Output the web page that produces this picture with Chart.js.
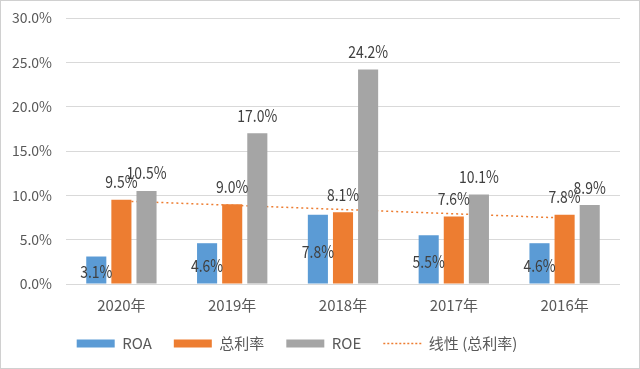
<!DOCTYPE html>
<html>
<head>
<meta charset="utf-8">
<script src="https://cdn.jsdelivr.net/npm/chart.js@4.4.0/dist/chart.umd.min.js"></script>
<style>
  html, body { margin: 0; padding: 0; background: #ffffff; }
  #wrap { width: 640px; height: 369px; }
</style>
</head>
<body>
<div id="wrap"><canvas id="roeChart" width="640" height="369"></canvas></div>
<script>
// values
var years = ['2020年', '2019年', '2018年', '2017年', '2016年'];
var roa = [3.1, 4.6, 7.8, 5.5, 4.6];
var profitRate = [9.5, 9.0, 8.1, 7.6, 7.8];
var roe = [10.5, 17.0, 24.2, 10.1, 8.9];
var profitTrend = [9.36, 8.88, 8.40, 7.92, 7.44];
var yTicks = [0, 5, 10, 15, 20, 25, 30];

var fontFamily = "'Noto Sans CJK SC', 'Noto Sans', sans-serif";

// draws the value labels on the bars (narrow text like the original)
var barLabels = {
    id: 'barLabels',
    afterDatasetsDraw: function (chart) {
        var ctx = chart.ctx;
        ctx.save();
        ctx.font = '17px ' + fontFamily;
        ctx.fillStyle = '#404040';
        ctx.textAlign = 'center';
        ctx.textBaseline = 'middle';
        chart.data.datasets.forEach(function (ds, i) {
            if (ds.type === 'line') return;
            var meta = chart.getDatasetMeta(i);
            meta.data.forEach(function (bar, j) {
                var txt = ds.data[j].toFixed(1) + '%';
                var y;
                if (i === 0) {
                    y = (bar.y + bar.base) / 2 + 2;
                } else {
                    y = bar.y - 18;
                }
                ctx.save();
                ctx.translate(bar.x, y);
                ctx.scale(0.82, 1);
                ctx.fillText(txt, 0, 0);
                ctx.restore();
            });
        });
        ctx.restore();
    }
};

// light frame round the whole chart
var frame = {
    id: 'frame',
    beforeDraw: function (chart) {
        var ctx = chart.ctx;
        ctx.save();
        ctx.fillStyle = '#ffffff';
        ctx.fillRect(0, 0, chart.width, chart.height);
        ctx.strokeStyle = '#d0d0d0';
        ctx.lineWidth = 1;
        ctx.strokeRect(0.5, 0.5, chart.width - 1, chart.height - 1);
        ctx.restore();
    },
    // legend sits a bit left of centre in the original
    afterLayout: function (chart) {
        if (chart.legend) {
            chart.legend.left -= 13;
            chart.legend.right -= 13;
        }
    }
};

var ctx = document.getElementById('roeChart');
var myChart = new Chart(ctx, {
    type: 'bar',
    data: {
        labels: years,
        datasets: [{
            label: 'ROA',
            data: roa,
            backgroundColor: '#5B9BD5',
            order: 1
        }, {
            label: '总利率',
            data: profitRate,
            backgroundColor: '#ED7D31',
            order: 1
        }, {
            label: 'ROE',
            data: roe,
            backgroundColor: '#A5A5A5',
            order: 1
        }, {
            type: 'line',
            label: '线性 (总利率)',
            data: profitTrend,
            borderColor: '#ED7D31',
            backgroundColor: 'rgba(0,0,0,0)',
            borderWidth: 1.5,
            borderDash: [2, 3],
            pointRadius: 0,
            fill: false,
            order: 10
        }]
    },
    options: {
        responsive: false,
        animation: false,
        categoryPercentage: 0.68,
        barPercentage: 0.8,
        layout: {
            padding: { left: 0, right: 20, top: 3, bottom: 8 }
        },
        plugins: {
            tooltip: { enabled: false },
            legend: {
                position: 'bottom',
                labels: {
                    usePointStyle: true,
                    pointStyleWidth: 38,
                    boxHeight: 8,
                    padding: 22,
                    color: '#595959',
                    font: { family: fontFamily, size: 15 },
                    generateLabels: function (chart) {
                        return chart.data.datasets.map(function (ds, i) {
                            var isLine = ds.type === 'line';
                            return {
                                text: ds.label,
                                datasetIndex: i,
                                fillStyle: isLine ? 'rgba(0,0,0,0)' : ds.backgroundColor,
                                strokeStyle: isLine ? ds.borderColor : ds.backgroundColor,
                                lineWidth: isLine ? 1.5 : 0,
                                lineDash: isLine ? [2, 2] : [],
                                pointStyle: isLine ? 'line' : 'rect',
                                fontColor: '#595959'
                            };
                        });
                    }
                }
            }
        },
        scales: {
            x: {
                grid: { display: false },
                border: { display: false },
                afterFit: function (scale) {
                    scale.height = 30;
                },
                ticks: {
                    color: '#595959',
                    padding: 4,
                    font: { family: fontFamily, size: 15 }
                }
            },
            y: {
                min: 0,
                max: 30,
                afterBuildTicks: function (scale) {
                    scale.ticks = yTicks.map(function (v) { return { value: v }; });
                },
                afterFit: function (scale) {
                    scale.width = 66;
                    scale.paddingTop = 18;
                },
                grid: { color: '#d9d9d9', drawTicks: false },
                border: { display: false },
                ticks: {
                    color: '#595959',
                    padding: 14,
                    font: { family: fontFamily, size: 14 },
                    callback: function (value) {
                        return value.toFixed(1) + '%';
                    }
                }
            }
        }
    },
    plugins: [frame, barLabels]
});
</script>
</body>
</html>
